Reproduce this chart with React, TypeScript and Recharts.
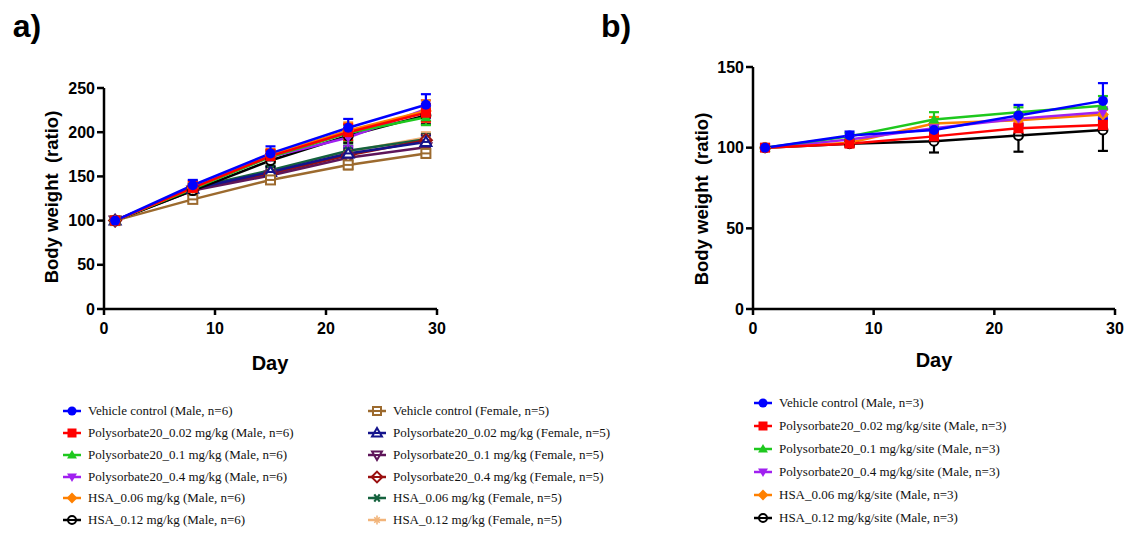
import React from 'react';
import { LineChart, Line, XAxis, YAxis, ErrorBar } from 'recharts';

// ---------- shared ----------
const days = [1, 8, 15, 22, 29];
const xTicks = [0, 10, 20, 30];
const yTicksA = [0, 50, 100, 150, 200, 250];
const yTicksB = [0, 50, 100, 150];

// ---------- panel a: means ----------
const aVehicleMale = [100, 140, 176, 205, 231];
const aP002Male = [100, 137, 173, 200, 222];
const aP01Male = [100, 136, 172, 199, 217];
const aP04Male = [100, 137, 172, 194, 226];
const aHsa006Male = [100, 137, 174, 202, 224];
const aHsa012Male = [100, 134, 168, 196, 219];
const aVehicleFemale = [100, 124, 146, 163, 176];
const aP002Female = [100, 136, 155, 176, 189];
const aP01Female = [100, 134, 151, 171, 183];
const aP04Female = [100, 135, 153, 174, 191];
const aHsa006Female = [100, 137, 157, 179, 192];
const aHsa012Female = [100, 135, 156, 178, 194];

// ---------- panel a: error (SD) ----------
const aVehicleMaleErr = [3, 6, 8, 10, 12];
const aP002MaleErr = [3, 8, 7, 9, 10];
const aP01MaleErr = [3, 6, 7, 9, 9];
const aP04MaleErr = [3, 6, 7, 10, 10];
const aHsa006MaleErr = [3, 6, 7, 9, 12];
const aHsa012MaleErr = [3, 5, 7, 8, 10];
const aVehicleFemaleErr = [3, 4, 4, 5, 5];
const aP002FemaleErr = [3, 4, 5, 6, 7];
const aP01FemaleErr = [3, 4, 5, 6, 6];
const aP04FemaleErr = [3, 4, 5, 6, 6];
const aHsa006FemaleErr = [3, 4, 5, 6, 6];
const aHsa012FemaleErr = [3, 4, 5, 6, 6];

// ---------- panel b: means ----------
const bVehicle = [100, 107.5, 111, 120, 129];
const bP002 = [100, 102.5, 107, 112, 114];
const bP01 = [100, 107, 117.5, 122, 126];
const bP04 = [100, 105, 112, 118, 122];
const bHsa006 = [100, 103, 115, 117, 120.5];
const bHsa012 = [100, 102.5, 104, 107.5, 111];

// ---------- panel b: error (SD) ----------
const bVehicleErr = [0.5, 2.5, 4, 6.5, 11];
const bP002Err = [0.5, 1.5, 3, 3, 3];
const bP01Err = [0.5, 2, 4.5, 3, 6];
const bP04Err = [0.5, 2, 3, 3, 3];
const bHsa006Err = [0.5, 2, 4, 3, 3];
const bHsa012Err = [0.5, 2, 7, 10, 13];

// ---------- labels ----------
const aNames = [
  'Vehicle control (Male, n=6)',
  'Polysorbate20_0.02 mg/kg (Male, n=6)',
  'Polysorbate20_0.1 mg/kg (Male, n=6)',
  'Polysorbate20_0.4 mg/kg (Male, n=6)',
  'HSA_0.06 mg/kg (Male, n=6)',
  'HSA_0.12 mg/kg (Male, n=6)',
  'Vehicle control (Female, n=5)',
  'Polysorbate20_0.02 mg/kg (Female, n=5)',
  'Polysorbate20_0.1 mg/kg (Female, n=5)',
  'Polysorbate20_0.4 mg/kg (Female, n=5)',
  'HSA_0.06 mg/kg (Female, n=5)',
  'HSA_0.12 mg/kg (Female, n=5)',
];
const bNames = [
  'Vehicle control (Male, n=3)',
  'Polysorbate20_0.02 mg/kg/site (Male, n=3)',
  'Polysorbate20_0.1 mg/kg/site (Male, n=3)',
  'Polysorbate20_0.4 mg/kg/site (Male, n=3)',
  'HSA_0.06 mg/kg/site (Male, n=3)',
  'HSA_0.12 mg/kg/site (Male, n=3)',
];

type Marker =
  | 'circle' | 'square' | 'triUp' | 'triDown' | 'diamond' | 'circleLine'
  | 'openSquare' | 'openTriUp' | 'openTriDown' | 'openDiamond' | 'asterisk' | 'plus';

interface Series { key: string; name: string; color: string; marker: Marker; mean: number[]; err: number[]; }

const aSeries: Series[] = [
  { key: 'a0', name: aNames[0], color: '#0000FF', marker: 'circle', mean: aVehicleMale, err: aVehicleMaleErr },
  { key: 'a1', name: aNames[1], color: '#FF0000', marker: 'square', mean: aP002Male, err: aP002MaleErr },
  { key: 'a2', name: aNames[2], color: '#1EC81E', marker: 'triUp', mean: aP01Male, err: aP01MaleErr },
  { key: 'a3', name: aNames[3], color: '#A020F0', marker: 'triDown', mean: aP04Male, err: aP04MaleErr },
  { key: 'a4', name: aNames[4], color: '#FF8000', marker: 'diamond', mean: aHsa006Male, err: aHsa006MaleErr },
  { key: 'a5', name: aNames[5], color: '#000000', marker: 'circleLine', mean: aHsa012Male, err: aHsa012MaleErr },
  { key: 'a6', name: aNames[6], color: '#9C6A2E', marker: 'openSquare', mean: aVehicleFemale, err: aVehicleFemaleErr },
  { key: 'a7', name: aNames[7], color: '#14148C', marker: 'openTriUp', mean: aP002Female, err: aP002FemaleErr },
  { key: 'a8', name: aNames[8], color: '#5E1559', marker: 'openTriDown', mean: aP01Female, err: aP01FemaleErr },
  { key: 'a9', name: aNames[9], color: '#9A1010', marker: 'openDiamond', mean: aP04Female, err: aP04FemaleErr },
  { key: 'a10', name: aNames[10], color: '#15623E', marker: 'asterisk', mean: aHsa006Female, err: aHsa006FemaleErr },
  { key: 'a11', name: aNames[11], color: '#F2B47A', marker: 'plus', mean: aHsa012Female, err: aHsa012FemaleErr },
];

const bSeries: Series[] = [
  { key: 'b0', name: bNames[0], color: '#0000FF', marker: 'circle', mean: bVehicle, err: bVehicleErr },
  { key: 'b1', name: bNames[1], color: '#FF0000', marker: 'square', mean: bP002, err: bP002Err },
  { key: 'b2', name: bNames[2], color: '#1EC81E', marker: 'triUp', mean: bP01, err: bP01Err },
  { key: 'b3', name: bNames[3], color: '#A020F0', marker: 'triDown', mean: bP04, err: bP04Err },
  { key: 'b4', name: bNames[4], color: '#FF8000', marker: 'diamond', mean: bHsa006, err: bHsa006Err },
  { key: 'b5', name: bNames[5], color: '#000000', marker: 'circleLine', mean: bHsa012, err: bHsa012Err },
];

// draw order (last = on top)
const aOrder = [11, 10, 9, 8, 7, 6, 5, 3, 2, 4, 1, 0];
const bOrder = [5, 4, 3, 2, 1, 0];

function buildRows(series: Series[]) {
  return days.map((d, i) => {
    const row: Record<string, number> = { day: d };
    series.forEach((s) => {
      row[s.key] = s.mean[i];
      row[s.key + '_e'] = s.err[i];
    });
    return row;
  });
}
const aRows = buildRows(aSeries);
const bRows = buildRows(bSeries);

function drawMarker(kind: Marker, color: string, cx: number, cy: number, r: number, key?: string) {
  const sw = 2;
  switch (kind) {
    case 'circle':
      return <circle key={key} cx={cx} cy={cy} r={r} fill={color} />;
    case 'square':
      return <rect key={key} x={cx - r} y={cy - r} width={2 * r} height={2 * r} fill={color} />;
    case 'triUp':
      return <polygon key={key} points={`${cx},${cy - r * 1.1} ${cx - r * 1.1},${cy + r * 0.8} ${cx + r * 1.1},${cy + r * 0.8}`} fill={color} />;
    case 'triDown':
      return <polygon key={key} points={`${cx},${cy + r * 1.1} ${cx - r * 1.1},${cy - r * 0.8} ${cx + r * 1.1},${cy - r * 0.8}`} fill={color} />;
    case 'diamond':
      return <polygon key={key} points={`${cx},${cy - r * 1.2} ${cx + r * 1.2},${cy} ${cx},${cy + r * 1.2} ${cx - r * 1.2},${cy}`} fill={color} />;
    case 'circleLine':
      return (
        <g key={key}>
          <circle cx={cx} cy={cy} r={r - 0.5} fill="#fff" stroke={color} strokeWidth={sw} />
          <line x1={cx - r} y1={cy} x2={cx + r} y2={cy} stroke={color} strokeWidth={sw} />
        </g>
      );
    case 'openSquare':
      return (
        <g key={key}>
          <rect x={cx - r + 0.5} y={cy - r + 0.5} width={2 * r - 1} height={2 * r - 1} fill="#fff" stroke={color} strokeWidth={sw} />
          <line x1={cx - r} y1={cy} x2={cx + r} y2={cy} stroke={color} strokeWidth={sw} />
        </g>
      );
    case 'openTriUp':
      return (
        <g key={key}>
          <polygon points={`${cx},${cy - r * 1.1} ${cx - r * 1.1},${cy + r * 0.8} ${cx + r * 1.1},${cy + r * 0.8}`} fill="#fff" stroke={color} strokeWidth={sw} />
          <line x1={cx - r * 0.6} y1={cy} x2={cx + r * 0.6} y2={cy} stroke={color} strokeWidth={sw} />
        </g>
      );
    case 'openTriDown':
      return (
        <g key={key}>
          <polygon points={`${cx},${cy + r * 1.1} ${cx - r * 1.1},${cy - r * 0.8} ${cx + r * 1.1},${cy - r * 0.8}`} fill="#fff" stroke={color} strokeWidth={sw} />
          <line x1={cx - r * 0.6} y1={cy} x2={cx + r * 0.6} y2={cy} stroke={color} strokeWidth={sw} />
        </g>
      );
    case 'openDiamond':
      return (
        <g key={key}>
          <polygon points={`${cx},${cy - r * 1.2} ${cx + r * 1.2},${cy} ${cx},${cy + r * 1.2} ${cx - r * 1.2},${cy}`} fill="#fff" stroke={color} strokeWidth={sw} />
          <line x1={cx - r} y1={cy} x2={cx + r} y2={cy} stroke={color} strokeWidth={sw} />
        </g>
      );
    case 'asterisk':
      return (
        <g key={key} stroke={color} strokeWidth={2.2}>
          <line x1={cx - r} y1={cy} x2={cx + r} y2={cy} />
          <line x1={cx - r * 0.6} y1={cy - r * 0.8} x2={cx + r * 0.6} y2={cy + r * 0.8} />
          <line x1={cx + r * 0.6} y1={cy - r * 0.8} x2={cx - r * 0.6} y2={cy + r * 0.8} />
        </g>
      );
    case 'plus':
    default:
      return (
        <g key={key} stroke={color} strokeWidth={1.6}>
          <line x1={cx - r} y1={cy} x2={cx + r} y2={cy} />
          <line x1={cx} y1={cy - r} x2={cx} y2={cy + r} />
          <line x1={cx - r * 0.6} y1={cy - r * 0.6} x2={cx + r * 0.6} y2={cy + r * 0.6} />
          <line x1={cx + r * 0.6} y1={cy - r * 0.6} x2={cx - r * 0.6} y2={cy + r * 0.6} />
        </g>
      );
  }
}

const AXIS_FONT = '"Liberation Sans", Arial, Helvetica, sans-serif';
const LEGEND_FONT = '"Liberation Serif", "DejaVu Serif", "Times New Roman", Times, serif';
const tickStyle = { fill: '#000', fontSize: 16, fontWeight: 700, fontFamily: AXIS_FONT };

function Panel(props: {
  rows: Record<string, number>[]; series: Series[]; order: number[];
  width: number; height: number; margin: { top: number; right: number; bottom: number; left: number };
  yMax: number; yTicks: number[]; r: number;
}) {
  const { rows, series, order, width, height, margin, yMax, yTicks, r } = props;
  return (
    <LineChart width={width} height={height} data={rows} margin={margin}>
      <XAxis
        dataKey="day" type="number" domain={[0, 30]} ticks={xTicks} allowDataOverflow
        axisLine={{ stroke: '#000', strokeWidth: 2.5 }} tickLine={{ stroke: '#000', strokeWidth: 2.5 }}
        tickSize={6} tickMargin={8} tick={tickStyle} height={30} interval={0}
      />
      <YAxis
        type="number" domain={[0, yMax]} ticks={yTicks} allowDataOverflow
        axisLine={{ stroke: '#000', strokeWidth: 2.5 }} tickLine={{ stroke: '#000', strokeWidth: 2.5 }}
        tickSize={7} tickMargin={2} tick={tickStyle} width={50} interval={0}
      />
      {order.map((i) => {
        const s = series[i];
        return (
          <Line
            key={s.key} dataKey={s.key} name={s.name} stroke={s.color} strokeWidth={2.5}
            isAnimationActive={false} type="linear"
            dot={(p: any) => drawMarker(s.marker, s.color, p.cx, p.cy, r, `${s.key}-${p.index}`)}
            activeDot={false}
          >
            <ErrorBar dataKey={s.key + '_e'} direction="y" width={5} stroke={s.color} strokeWidth={2.2} isAnimationActive={false} />
          </Line>
        );
      })}
    </LineChart>
  );
}

function LegendItem(props: { s: Series; x: number; y: number; fontSize: number }) {
  const { s, x, y, fontSize } = props;
  return (
    <div style={{ position: 'absolute', left: x, top: y - 10, height: 20, display: 'flex', alignItems: 'center', whiteSpace: 'nowrap', fontFamily: LEGEND_FONT }}>
      <svg width={20} height={20} style={{ display: 'block', marginRight: 6 }}>
        <line x1={1} y1={10} x2={19} y2={10} stroke={s.color} strokeWidth={2.5} />
        {drawMarker(s.marker, s.color, 10, 10, 4.5)}
      </svg>
      <span style={{ fontFamily: LEGEND_FONT, fontSize, color: '#111' }}>{s.name}</span>
    </div>
  );
}

function RotLabel(props: { text: string; cx: number; cy: number }) {
  const w = 260;
  return (
    <div style={{
      position: 'absolute', left: props.cx - w / 2, top: props.cy - 12, width: w, height: 24,
      textAlign: 'center', transform: 'rotate(-90deg)', transformOrigin: 'center center',
      fontFamily: AXIS_FONT, fontWeight: 700, fontSize: 18.5, lineHeight: '24px', color: '#000', whiteSpace: 'pre',
    }}>{props.text}</div>
  );
}

function CenterLabel(props: { text: string; cx: number; cy: number; size: number }) {
  const w = 120;
  return (
    <div style={{
      position: 'absolute', left: props.cx - w / 2, top: props.cy - 18, width: w, height: 36,
      textAlign: 'center', fontFamily: AXIS_FONT, fontWeight: 700, fontSize: props.size, lineHeight: '36px', color: '#000',
    }}>{props.text}</div>
  );
}

export default function App() {
  const aRowsY = [411, 433, 455, 477, 498, 520];
  const bRowsY = [403, 426, 449, 472, 495, 518];
  return (
    <div style={{ position: 'absolute', left: 0, top: 0, width: 1137, height: 540, background: '#fff', overflow: 'hidden' }}>
      <div style={{ position: 'absolute', left: 0, top: 0 }}>
        <Panel rows={aRows} series={aSeries} order={aOrder} width={460} height={400}
          margin={{ top: 88, right: 23, bottom: 61, left: 54 }} yMax={250} yTicks={yTicksA} r={5} />
      </div>
      <div style={{ position: 'absolute', left: 640, top: 0 }}>
        <Panel rows={bRows} series={bSeries} order={bOrder} width={497} height={400}
          margin={{ top: 67, right: 22, bottom: 61, left: 63 }} yMax={150} yTicks={yTicksB} r={5} />
      </div>

      <CenterLabel text="a)" cx={27} cy={26} size={32} />
      <CenterLabel text="b)" cx={616} cy={26} size={32} />
      <RotLabel text="Body weight  (ratio)" cx={52} cy={197} />
      <RotLabel text="Body weight  (ratio)" cx={702} cy={199} />
      <CenterLabel text="Day" cx={270} cy={363} size={20} />
      <CenterLabel text="Day" cx={934} cy={360} size={20} />

      {aSeries.slice(0, 6).map((s, i) => (
        <LegendItem key={s.key} s={s} x={62} y={aRowsY[i]} fontSize={13} />
      ))}
      {aSeries.slice(6).map((s, i) => (
        <LegendItem key={s.key} s={s} x={367} y={aRowsY[i]} fontSize={13} />
      ))}
      {bSeries.map((s, i) => (
        <LegendItem key={s.key} s={s} x={753} y={bRowsY[i]} fontSize={13} />
      ))}
    </div>
  );
}
